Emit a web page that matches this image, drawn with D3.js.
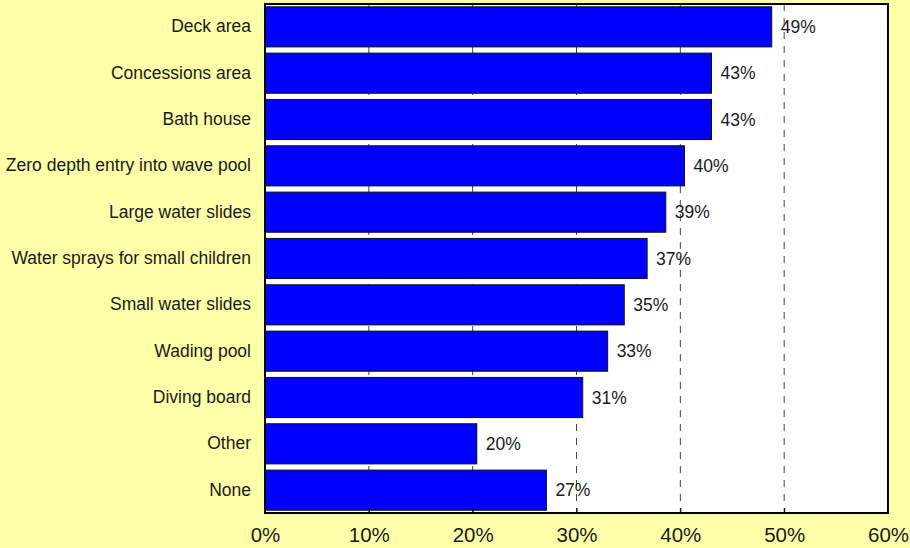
<!DOCTYPE html>
<html>
<head>
<meta charset="utf-8">
<script src="https://cdn.jsdelivr.net/npm/d3@7"></script>
<style>
  html, body { margin: 0; padding: 0; background: #FFFFAA; }
  svg { display: block; }
  text { font-family: "Liberation Sans", Arial, sans-serif; fill: #1a1a1a; }
</style>
</head>
<body>
<svg id="chart" width="910" height="548"></svg>
<script>
// Features respondents would like to see
const categories = [
  "Deck area",
  "Concessions area",
  "Bath house",
  "Zero depth entry into wave pool",
  "Large water slides",
  "Water sprays for small children",
  "Small water slides",
  "Wading pool",
  "Diving board",
  "Other",
  "None"
];
const values = [48.8, 43.0, 43.0, 40.4, 38.6, 36.8, 34.6, 33.0, 30.6, 20.4, 27.1];
const valueLabels = ["49%", "43%", "43%", "40%", "39%", "37%", "35%", "33%", "31%", "20%", "27%"];
const xTicks = [0, 10, 20, 30, 40, 50, 60];
const xTickLabels = ["0%", "10%", "20%", "30%", "40%", "50%", "60%"];

const W = 910, H = 548;
const plot = { left: 265, right: 888, top: 4, bottom: 513 };

const svg = d3.select("#chart");
svg.append("rect").attr("width", W).attr("height", H).attr("fill", "#FFFFAA");

const x = d3.scaleLinear().domain([0, 60]).range([plot.left, plot.right]);
const y = d3.scaleBand()
  .domain(categories)
  .range([plot.top, plot.bottom])
  .paddingInner(0.134)
  .paddingOuter(0.06);

// plot area background
svg.append("rect")
  .attr("x", plot.left).attr("y", plot.top)
  .attr("width", plot.right - plot.left).attr("height", plot.bottom - plot.top)
  .attr("fill", "#ffffff");

// dashed vertical gridlines
svg.append("g")
  .selectAll("line")
  .data(xTicks.filter(t => t > 0 && t < 60))
  .join("line")
  .attr("x1", d => x(d)).attr("x2", d => x(d))
  .attr("y1", plot.top).attr("y2", plot.bottom)
  .attr("stroke", "#444")
  .attr("stroke-width", 1)
  .attr("stroke-dasharray", "7,7");

// bars
svg.append("g")
  .selectAll("rect")
  .data(categories)
  .join("rect")
  .attr("x", x(0))
  .attr("y", d => y(d))
  .attr("width", (d, i) => x(values[i]) - x(0))
  .attr("height", y.bandwidth())
  .attr("fill", "#0000FF")
  .attr("stroke", "#111")
  .attr("stroke-width", 1);

// value labels
svg.append("g")
  .selectAll("text")
  .data(categories)
  .join("text")
  .attr("x", (d, i) => x(values[i]) + 9)
  .attr("y", d => y(d) + y.bandwidth() / 2)
  .attr("dy", "0.35em")
  .attr("font-size", 17.5)
  .text((d, i) => valueLabels[i]);

// x axis with inward ticks
const xAxis = d3.axisBottom(x)
  .tickValues(xTicks)
  .tickFormat((d, i) => xTickLabels[i])
  .tickSizeInner(-5)
  .tickSizeOuter(0)
  .tickPadding(14);
const gx = svg.append("g").attr("transform", `translate(0,${plot.bottom})`).call(xAxis);
gx.select(".domain").remove();
gx.selectAll(".tick line").attr("stroke", "#000").attr("stroke-width", 1);
gx.selectAll(".tick text")
  .attr("font-size", 20.5)
  .attr("font-family", "Liberation Sans, Arial, sans-serif")
  .attr("fill", "#1a1a1a");

// y axis labels
const yAxis = d3.axisLeft(y).tickSize(0).tickPadding(14);
const gy = svg.append("g").attr("transform", `translate(${plot.left},0)`).call(yAxis);
gy.select(".domain").remove();
gy.selectAll(".tick text")
  .attr("font-size", 17.5)
  .attr("font-family", "Liberation Sans, Arial, sans-serif")
  .attr("fill", "#1a1a1a");

// plot area frame
svg.append("rect")
  .attr("x", plot.left).attr("y", plot.top)
  .attr("width", plot.right - plot.left).attr("height", plot.bottom - plot.top)
  .attr("fill", "none")
  .attr("stroke", "#000")
  .attr("stroke-width", 2);
</script>
</body>
</html>
